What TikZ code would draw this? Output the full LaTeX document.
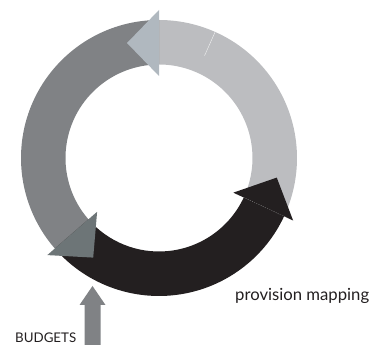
\documentclass[tikz,border=0pt]{standalone}
\usepackage{graphicx}
\usepackage{fontspec}
\setmainfont{Lato}
\usetikzlibrary{calc}
\definecolor{lightband}{RGB}{188,189,192}
\definecolor{toparrow}{RGB}{176,184,191}
\definecolor{darkband}{RGB}{128,130,133}
\definecolor{slatearrow}{RGB}{109,117,119}
\definecolor{blackband}{RGB}{35,31,32}
\definecolor{labeltext}{RGB}{35,31,32}
\tikzset{
  lbl/.style={inner sep=0pt, text=labeltext},
  seam/.style={line width=0.4pt}
}
\begin{document}
\begin{tikzpicture}[x=1pt,y=1pt]
\useasboundingbox (0,0) rectangle (373,345);
\coordinate (C) at (159,187);
\def\Ri{93.5}
\def\Ro{138}
% light grey band (right, up to the top)
\fill[lightband] ($(C)+(-25:\Ro)$) arc[start angle=-25,end angle=90,radius=\Ro]
  -- ($(C)+(90:\Ri)$) arc[start angle=90,end angle=-25,radius=\Ri] -- cycle;
\draw[seam, white, opacity=0.8] ($(C)+(66:112)$) -- ($(C)+(66:\Ro)$);
% dark grey band (left)
\fill[darkband] ($(C)+(90:\Ro)$) arc[start angle=90,end angle=221,radius=\Ro]
  -- ($(C)+(221:\Ri)$) arc[start angle=221,end angle=90,radius=\Ri] -- cycle;
% top arrowhead
\fill[toparrow] ($(C)+(90:82)$) -- ($(C)+(90:148)$) -- ($(C)+(90:115)+(180:32)$) -- cycle;
% black band (bottom)
\fill[blackband] ($(C)+(221:\Ro)$) arc[start angle=221,end angle=335,radius=\Ro]
  -- ($(C)+(335:\Ri)$) arc[start angle=335,end angle=221,radius=\Ri] -- cycle;
% bottom-left arrowhead
\fill[slatearrow] ($(C)+(221:82)$) -- ($(C)+(221:148)$) -- ($(C)+(221:115)+(311:32)$) -- cycle;
% right (black) arrowhead
\fill[blackband] ($(C)+(335:82)$) -- ($(C)+(335:148)$) -- ($(C)+(335:115)+(65:32)$) -- cycle;
\draw[seam, gray!70, dotted] ($(C)+(335:\Ri)$) -- ($(C)+(335:142)$);
% BUDGETS arrow
\coordinate (btip) at (92.5,59);
\fill[darkband] (btip) -- (105.5,40) -- (100.5,40) -- (100.5,0) -- (84.5,0) -- (84.5,40) -- (79.5,40) -- cycle;
% labels
\node[lbl, anchor=base west] (prov) at (235,44) {\resizebox{134pt}{!}{provision mapping}};
\node[lbl, anchor=base west] (bud) at (15,2) {\resizebox{61pt}{!}{BUDGETS}};
\end{tikzpicture}
\end{document}
